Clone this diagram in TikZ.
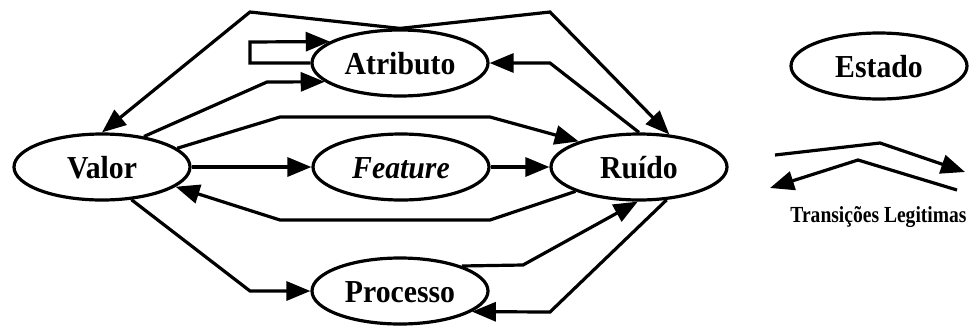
\documentclass[tikz,border=0pt]{standalone}
\usepackage{fontspec}
\setmainfont{Liberation Serif}
\usetikzlibrary{arrows.meta,shapes.geometric}
% narrowed bold label text
\newcommand{\narrowlabel}[2]{\scalebox{#1}[1]{#2}}
\begin{document}
\begin{tikzpicture}[x=1pt,y=-1pt,
  state/.style={ellipse,draw,line width=3.2pt,minimum width=176pt,minimum height=66pt,
    inner sep=0pt,text height=22pt,text depth=0pt,
    font=\fontsize{32}{38}\selectfont\bfseries},
  link/.style={line width=3.2pt,line join=miter,-{Triangle[length=24pt,width=19pt]}}]
\useasboundingbox (0,0) rectangle (969,325);

% states
\node[state] (valor)  at (102,167) {\narrowlabel{0.93}{Valor}};
\node[state] (atrib)  at (400,63)  {\narrowlabel{0.93}{Atributo}};
\node[state] (feat)   at (401,167) {\narrowlabel{0.93}{\itshape Feature}};
\node[state] (ruido)  at (639,167) {\narrowlabel{0.93}{Ruído}};
\node[state] (proc)   at (400,291) {\narrowlabel{0.93}{Processo}};
\node[state] (estado) at (879,66)  {\narrowlabel{0.93}{Estado}};

% transitions
\draw[link] (atrib.north) -- (250,12) -- (valor.north);
\draw[link] (atrib.north) -- (550,12) -- (ruido.47.6);
\draw[link] (atrib.west) -- (250,63) -- (250,42) -- (atrib.163.7);
\draw[link] (valor.36.2) -- (267,82) -- (atrib.194.2);
\draw[link] (valor.14.4) -- (280,117) -- (490,117) -- (ruido.157);
\draw[link] (ruido.north) -- (550,63) -- (atrib.east);
\draw[link] (valor) -- (feat);
\draw[link] (feat) -- (ruido);
\draw[link] (ruido.201.5) -- (490,220) -- (280,220) -- (valor.-15);
\draw[link] (valor.-48.5) -- (250,291) -- (proc.west);
\draw[link] (proc.22.4) -- (523,265) -- (ruido.-92);
\draw[link] (ruido.-50.4) -- (550,312) -- (proc.-16.7);

% legend
\coordinate (la1) at (775,155);
\coordinate (la2) at (880,143);
\coordinate (la3) at (965,172);
\coordinate (lb1) at (957,190);
\coordinate (lb2) at (858,160);
\coordinate (lb3) at (770,188);
\draw[link] (la1) -- (la2) -- (la3);
\draw[link] (lb1) -- (lb2) -- (lb3);
\node[anchor=base,inner sep=0pt,font=\fontsize{23}{27}\selectfont\bfseries] (legenda)
  at (878.5,222) {\narrowlabel{0.85}{Transições Legitimas}};
\end{tikzpicture}
\end{document}
